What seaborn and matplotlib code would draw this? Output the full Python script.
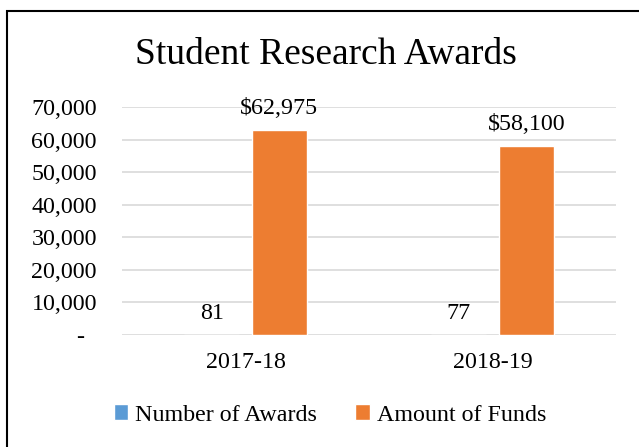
import matplotlib
matplotlib.use('Agg')
import matplotlib.pyplot as plt
import seaborn as sns
import pandas as pd
from matplotlib.patches import Rectangle
from matplotlib.ticker import FuncFormatter

# 数据
years = ['2017-18', '2018-19']
num_awards = [81, 77]
amount_funds = [62975, 58100]
series_names = ['Number of Awards', 'Amount of Funds']
colors = ['#5B9BD5', '#ED7D31']

df = pd.DataFrame({
    'year': years * 2,
    'series': [series_names[0]] * 2 + [series_names[1]] * 2,
    'value': num_awards + amount_funds,
})

sns.set_theme(style='white')
plt.rcParams['font.family'] = ['Liberation Serif', 'DejaVu Serif']
plt.rcParams['text.color'] = 'black'
plt.rcParams['axes.labelcolor'] = 'black'

fs = 17.3

fig = plt.figure(figsize=(6.39, 4.47), dpi=100)
ax = fig.add_axes([122 / 639, 1 - 335 / 447, (616 - 122) / 639, (335 - 107) / 447])

sns.barplot(data=df, x='year', y='value', hue='series', palette=colors,
            width=0.547, gap=0.185, ax=ax, saturation=1, legend=True)

ax.set_ylim(0, 70000)
ax.set_yticks(range(0, 70001, 10000))
# 会计格式：0 显示为 "-"
ax.yaxis.set_major_formatter(FuncFormatter(lambda v, p: '-  ' if v == 0 else f'{int(v):,}'))
ax.grid(axis='y', color='#D9D9D9', linewidth=1.2)
ax.set_axisbelow(True)
for s in ax.spines.values():
    s.set_visible(False)
ax.tick_params(axis='both', length=0, labelsize=fs, colors='black')
ax.tick_params(axis='y', pad=18)
ax.tick_params(axis='x', pad=12)
ax.set_xlabel('')
ax.set_ylabel('')

# 数据标签
ax.bar_label(ax.containers[0], labels=[str(v) for v in num_awards],
             padding=8, fontsize=fs, color='black')
ax.bar_label(ax.containers[1], labels=[f'${v:,}' for v in amount_funds],
             padding=8, fontsize=fs, color='black')

fig.text(326 / 639, 1 - 55 / 447, 'Student Research Awards', ha='center', va='center',
         fontsize=27, color='black')

ax.legend(loc='center', bbox_to_anchor=((330 - 122) / 494, (335 - 415) / (335 - 107)),
          ncol=2, frameon=False, fontsize=fs, handlelength=0.6, handleheight=0.6,
          handletextpad=0.3, columnspacing=1.6, labelcolor='black')

# 外框
fig.patches.append(Rectangle((7 / 639, -0.1), 1.2, 1 - 11 / 447 + 0.1,
                             transform=fig.transFigure, fill=False,
                             edgecolor='black', linewidth=1.5))

fig.savefig('out.png', dpi=100)
